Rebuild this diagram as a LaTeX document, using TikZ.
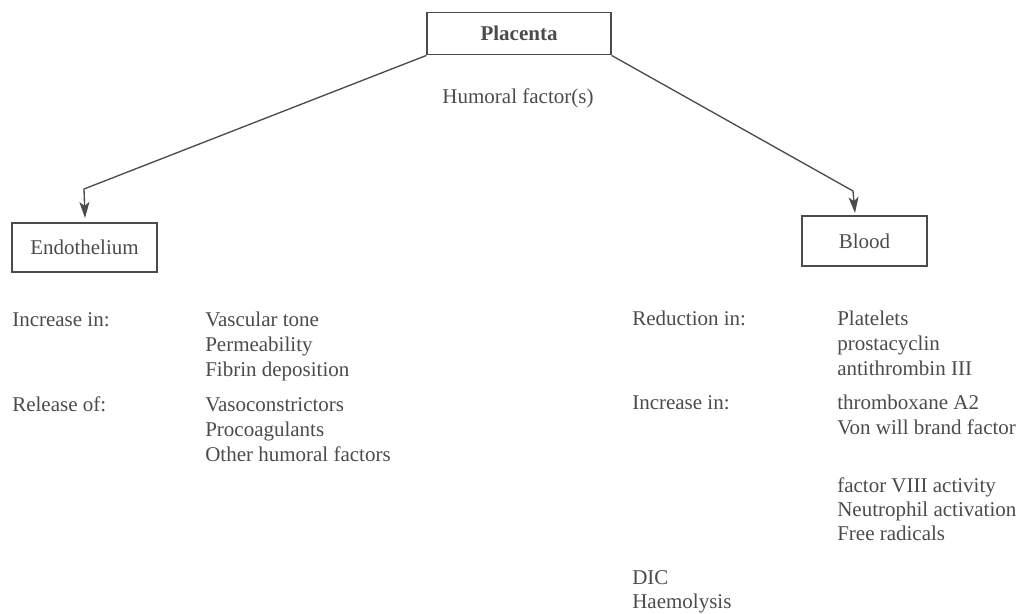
\documentclass[tikz,border=0pt]{standalone}
\usepackage{fontspec}
\setmainfont{Liberation Serif}
\usepackage{xcolor}
\usetikzlibrary{arrows.meta}
\definecolor{inkgray}{RGB}{75,75,75}
\tikzset{
  txt/.style={text=inkgray, font=\fontsize{15.75}{19}\selectfont, inner sep=0pt, anchor=base west},
  boxnode/.style={draw=inkgray, line width=0.9pt, text=inkgray, font=\fontsize{15.75}{19}\selectfont, inner sep=0pt},
  link/.style={draw=inkgray, line width=1pt, -{Stealth[length=12pt,width=7.5pt,inset=3pt]}}
}
\begin{document}
\begin{tikzpicture}[x=0.75pt,y=0.75pt,yscale=-1,xscale=1]
\useasboundingbox (0,0) rectangle (1026,614);

% Boxes
\node [boxnode, minimum width=138pt, minimum height=32pt, font=\fontsize{15.75}{19}\selectfont\bfseries] (placenta) at (519,33.5) {Placenta};
\node [boxnode, minimum width=108.75pt, minimum height=36.75pt] (endo) at (84.5,247.5) {Endothelium};
\node [boxnode, minimum width=93.75pt, minimum height=37.5pt] (blood) at (864.5,241) {Blood};

% Connectors
\coordinate (lbend) at (84,189);
\coordinate (ltip) at (85,218);
\coordinate (rbend) at (853,191);
\coordinate (rtip) at (855,213);
\draw [link] (placenta.south west) -- (lbend) -- (ltip);
\draw [link] (placenta.south east) -- (rbend) -- (rtip);

% Text Node
\node [txt, anchor=base] (humoral) at (518,103) {Humoral factor(s)};

% Endothelium side
\node [txt] (incl) at (12,326) {Increase in:};
\node [txt] (vasc) at (205,326) {Vascular tone};
\node [txt] (perm) at (205,351) {Permeability};
\node [txt] (fibr) at (205,376) {Fibrin deposition};
\node [txt] (rell) at (12,411) {Release of:};
\node [txt] (vaso) at (205,411) {Vasoconstrictors};
\node [txt] (proc) at (205,436) {Procoagulants};
\node [txt] (othr) at (205,461) {Other humoral factors};

% Blood side
\node [txt] (redl) at (632,325) {Reduction in:};
\node [txt] (plat) at (837,325) {Platelets};
\node [txt] (pros) at (837,350) {prostacyclin};
\node [txt] (anti) at (837,375) {antithrombin III};
\node [txt] (incr) at (632,409) {Increase in:};
\node [txt] (thro) at (837,409) {thromboxane A2};
\node [txt] (vonw) at (837,434) {Von will brand factor};
\node [txt] (fac8) at (837,492) {factor VIII activity};
\node [txt] (neut) at (837,516) {Neutrophil activation};
\node [txt] (free) at (837,540) {Free radicals};
\node [txt] (dic) at (632,584) {DIC};
\node [txt] (haem) at (632,608) {Haemolysis};

\end{tikzpicture}
\end{document}
